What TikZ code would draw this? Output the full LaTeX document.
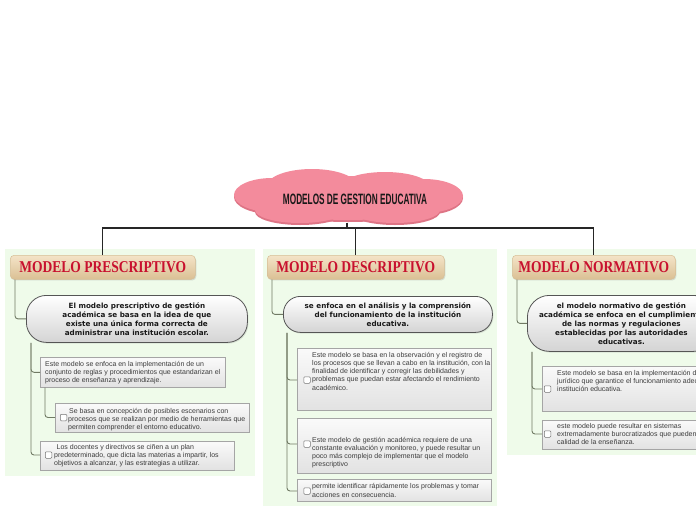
\documentclass[tikz,border=0pt]{standalone}
\usepackage{fontspec}
\setmainfont{Liberation Sans}
\newfontfamily\boxfont{Liberation Sans}
\newfontfamily\pillfont{DejaVu Sans}
\newfontfamily\topicfont{Liberation Serif}
\usetikzlibrary{shadows}
\definecolor{panelgreen}{RGB}{239,251,234}
\definecolor{pink}{RGB}{243,139,156}
\definecolor{pinkdark}{RGB}{222,116,133}
\definecolor{tantop}{RGB}{244,228,200}
\definecolor{tanbot}{RGB}{218,192,148}
\definecolor{tanedge}{RGB}{214,190,150}
\definecolor{topicred}{RGB}{200,16,46}
\definecolor{pillbot}{RGB}{212,212,212}
\definecolor{pilledge}{RGB}{85,85,85}
\definecolor{boxtop}{RGB}{250,250,250}
\definecolor{boxbot}{RGB}{226,226,226}
\definecolor{boxedge}{RGB}{165,165,165}
\definecolor{connc}{RGB}{112,122,100}
\definecolor{txtc}{RGB}{60,60,60}
\tikzset{
  panel/.style={fill=panelgreen, draw=none},
  topic/.style={rounded corners=4pt, top color=tantop, bottom color=tanbot, draw=tanedge, line width=0.5pt,
    inner sep=0pt, anchor=north west, minimum height=24pt, text=topicred,
    font=\topicfont\bfseries\fontsize{16.5}{16.5}\selectfont,
    drop shadow={opacity=0.25, shadow xshift=1pt, shadow yshift=-1.2pt}},
  pill/.style={top color=white, bottom color=pillbot, draw=pilledge, line width=0.8pt,
    anchor=north west, inner sep=0pt, align=center, text=black!90,
    font=\pillfont\bfseries\fontsize{7.2}{9}\selectfont,
    drop shadow={opacity=0.2, shadow xshift=1pt, shadow yshift=-1.2pt}},
  subbox/.style={top color=boxtop, bottom color=boxbot, draw=boxedge, line width=0.6pt,
    anchor=north west, inner sep=0pt},
  chk/.style={draw=black!55, fill=white, rounded corners=1pt, minimum size=6.5pt, inner sep=0pt, line width=0.5pt},
  txt/.style={font=\boxfont\fontsize{7}{8.2}\selectfont, align=left, anchor=north west, inner sep=0pt, text=txtc},
  conn/.style={draw=connc, line width=0.9pt, rounded corners=3pt},
  trunk/.style={draw=black!85, line width=1.4pt},
}
\begin{document}
\begin{tikzpicture}[x=1pt,y=-1pt]
\useasboundingbox (0,0) rectangle (696,520);
\begin{scope}
\clip (0,0) rectangle (696,520);
\fill[white] (0,0) rectangle (696,520);
% panels
\fill[panel] (5,249) rectangle (255,476);
\fill[panel] (263,249) rectangle (497,506);
\fill[panel] (507,249) rectangle (700,455);
% cloud
\begin{scope}[yshift=-2pt]
\fill[pinkdark] (348,198) ellipse [x radius=95, y radius=22];
\fill[pinkdark] (272,195) ellipse [x radius=38, y radius=17];
\fill[pinkdark] (424,196) ellipse [x radius=39, y radius=17];
\fill[pinkdark] (300,210) ellipse [x radius=45, y radius=13];
\fill[pinkdark] (395,210) ellipse [x radius=45, y radius=13];
\end{scope}
\fill[pink] (348,198) ellipse [x radius=95, y radius=22];
\fill[pink] (272,195) ellipse [x radius=38, y radius=17];
\fill[pink] (424,196) ellipse [x radius=39, y radius=17];
\fill[pink] (312,186) ellipse [x radius=45, y radius=17];
\fill[pink] (385,187) ellipse [x radius=45, y radius=15];
\fill[pink] (300,210) ellipse [x radius=45, y radius=13];
\fill[pink] (395,210) ellipse [x radius=45, y radius=13];
\node[inner sep=0pt, text=black!90, font=\bfseries\fontsize{15}{15}\selectfont] (root) at (355,199)
  {\scalebox{0.55}[1]{MODELOS DE GESTION EDUCATIVA}};
\coordinate (rootb) at (347,223);
\coordinate (bar) at (0,228);
% topics
\node[topic, minimum width=185pt] (tP) at (10,255) {\scalebox{0.82}[1]{MODELO PRESCRIPTIVO}};
\node[topic, minimum width=177pt] (tD) at (267,255) {\scalebox{0.82}[1]{MODELO DESCRIPTIVO}};
\node[topic, minimum width=163pt] (tN) at (512,255) {\scalebox{0.82}[1]{MODELO NORMATIVO}};
% trunk lines
\draw[trunk] (rootb) -- (rootb |- bar);
\draw[trunk] (tP.north) |- (tN.north |- bar) -- (tN.north);
\draw[trunk] (tD.north) -- (tD.north |- bar);
% pills
\node[pill, rounded corners=20pt, minimum width=221pt, minimum height=47pt] (p1) at (26,295)
  {El modelo prescriptivo de gestión\\académica se basa en la idea de que\\existe una única forma correcta de\\administrar una institución escolar.};
\node[pill, rounded corners=17pt, minimum width=209pt, minimum height=36pt] (d1) at (283,296)
  {se enfoca en el análisis y la comprensión\\del funcionamiento de la institución\\educativa.};
\node[pill, rounded corners=22pt, minimum width=188pt, minimum height=56pt] (n1) at (527,295)
  {el modelo normativo de gestión\\académica se enfoca en el cumplimiento\\de las normas y regulaciones\\establecidas por las autoridades\\educativas.};
% sub boxes
\node[subbox, minimum width=185pt, minimum height=30pt] (p2) at (40,357) {};
\node[subbox, minimum width=194pt, minimum height=29pt] (p3) at (55,403) {};
\node[subbox, minimum width=194pt, minimum height=29pt] (p4) at (40,441) {};
\node[subbox, minimum width=194pt, minimum height=62pt] (d2) at (297,348) {};
\node[subbox, minimum width=194pt, minimum height=55pt] (d3) at (297,418) {};
\node[subbox, minimum width=194pt, minimum height=22pt] (d4) at (297,479) {};
\node[subbox, minimum width=180pt, minimum height=45pt] (n2) at (542,366) {};
\node[subbox, minimum width=180pt, minimum height=29pt] (n3) at (542,420) {};
% checkboxes
\node[chk] (c3) at (63.5,417.5) {};
\node[chk] (c4) at (48.5,455) {};
\node[chk] (cd2) at (307,380) {};
\node[chk] (cd3) at (307,444) {};
\node[chk] (cd4) at (307,491) {};
\node[chk] (cn2) at (547.5,389) {};
\node[chk] (cn3) at (547.5,434) {};
% texts
\node[txt] (p2t) at (45,361) {Este modelo se enfoca en la implementación de un\\conjunto de reglas y procedimientos que estandarizan el\\proceso de enseñanza y aprendizaje.};
\node[txt] (p3t) at (68,408) {\hspace*{1pt}Se basa en concepción de posibles escenarios con\\procesos que se realizan por medio de herramientas que\\permiten comprender el entorno educativo.};
\node[txt] (p4t) at (54,444) {\hspace*{2.5pt}Los docentes y directivos se ciñen a un plan\\predeterminado, que dicta las materias a impartir, los\\objetivos a alcanzar, y las estrategias a utilizar.};
\node[txt] (d2t) at (312,352) {Este modelo se basa en la observación y el registro de\\los procesos que se llevan a cabo en la institución, con la\\finalidad de identificar y corregir las debilidades y\\problemas que puedan estar afectando el rendimiento\\académico.};
\node[txt] (d3t) at (312,437) {Este modelo de gestión académica requiere de una\\constante evaluación y monitoreo, y puede resultar un\\poco más complejo de implementar que el modelo\\prescriptivo};
\node[txt] (d4t) at (312,483.5) {permite identificar rápidamente los problemas y tomar\\acciones en consecuencia.};
\node[txt] (n2t) at (557,370) {Este modelo se basa en la implementación de un marco\\jurídico que garantice el funcionamiento adecuado de la\\institución educativa.};
\node[txt] (n3t) at (557,423) {este modelo puede resultar en sistemas\\extremadamente burocratizados que pueden afectar la\\calidad de la enseñanza.};
% connectors
\draw[conn] (tP.south west) ++(5,0) |- (p1.west);
\draw[conn] (tD.south west) ++(5,0) |- (d1.west);
\draw[conn] (tN.south west) ++(5,0) |- (n1.west);
\draw[conn] (p1.south west) ++(5,0) |- (p2.west);
\draw[conn] (p1.south west) ++(5,0) |- (p4.west |- c4);
\draw[conn] (p2.south west) ++(5,0) |- (p3.west |- c3);
\draw[conn] (d1.south west) ++(4,0) |- (d2.west |- cd2);
\draw[conn] (d1.south west) ++(4,0) |- (d3.west |- cd3);
\draw[conn] (d1.south west) ++(4,0) |- (d4.west |- cd4);
\draw[conn] (n1.south west) ++(5,0) |- (n2.west |- cn2);
\draw[conn] (n1.south west) ++(5,0) |- (n3.west |- cn3);
\end{scope}
\end{tikzpicture}
\end{document}
